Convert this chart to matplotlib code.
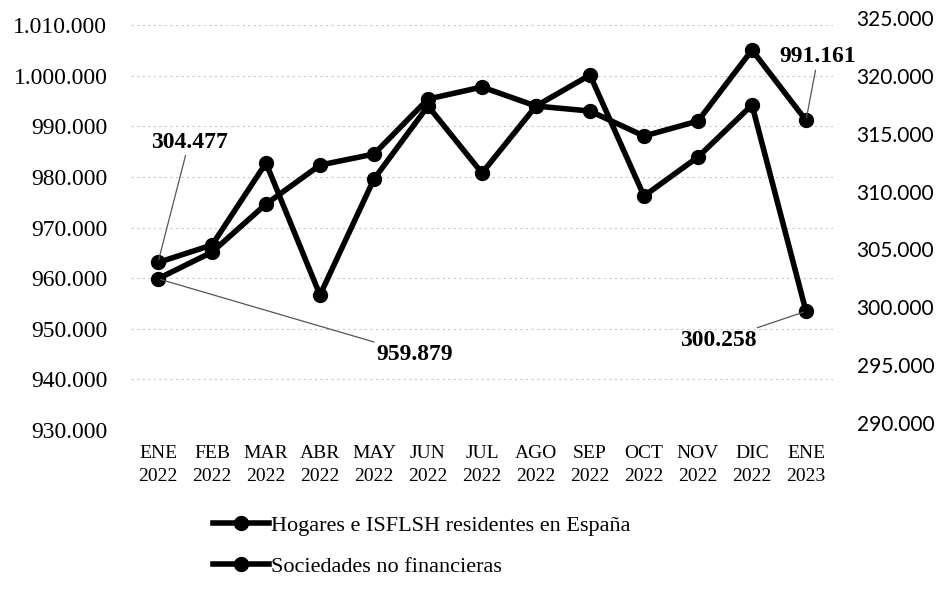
import matplotlib.pyplot as plt
from matplotlib.transforms import ScaledTranslation

# monthly data, ENE 2022 - ENE 2023
meses = ["ENE\n2022", "FEB\n2022", "MAR\n2022", "ABR\n2022", "MAY\n2022", "JUN\n2022", "JUL\n2022",
         "AGO\n2022", "SEP\n2022", "OCT\n2022", "NOV\n2022", "DIC\n2022", "ENE\n2023"]
hogares = [959879, 965138, 974625, 982332, 984506, 995375, 997747,
           993992, 993004, 988063, 991028, 1005060, 991161]
sociedades = [304477, 305985, 313073, 301663, 311690, 318000, 312208,
              318000, 320678, 310220, 313591, 318086, 300258]
ticks_izq = list(range(930000, 1010001, 10000))
ticks_der = list(range(290000, 325001, 5000))


def miles(v):
    return f"{v:,}".replace(",", ".")


serif = "Liberation Serif"
fig = plt.figure(figsize=(9.4, 6.08), dpi=100)
ax = fig.add_axes([131 / 940, 1 - 430 / 608, (833 - 131) / 940, (430 - 25) / 608])
ax2 = ax.twinx()

x = list(range(len(meses)))
l1, = ax.plot(x, hogares, color="black", lw=4, marker="o", ms=10,
              label="Hogares e ISFLSH residentes en España", zorder=3)
l2, = ax2.plot(x, sociedades, color="black", lw=4, marker="o", ms=10,
               label="Sociedades no financieras", zorder=3)

ax.set_xlim(-0.5, len(meses) - 0.5)
ax.set_ylim(930000, 1010000)
ax2.set_ylim(290000, 325000)
ax.set_yticks(ticks_izq)
ax.set_yticklabels([miles(v) for v in ticks_izq], fontfamily=serif, fontsize=17)
ax2.set_yticks(ticks_der)
ax2.set_yticklabels([miles(v) for v in ticks_der], fontfamily="Lato", fontsize=15)
ax.set_xticks(x)
ax.set_xticklabels(meses, fontfamily=serif, fontsize=14, linespacing=1.45)

ax.grid(axis="y", color="#c8c8c8", linestyle=(0, (2, 3)), linewidth=0.8)
ax.tick_params(axis="y", length=0, pad=17)
ax.tick_params(axis="x", length=0, pad=11)
ax2.tick_params(axis="y", length=0, pad=17)
for a in (ax, ax2):
    for s in a.spines.values():
        s.set_visible(False)

# right axis labels sit a bit higher in the original
up = ScaledTranslation(0, 7 / 100, fig.dpi_scale_trans)
for lbl in ax2.get_yticklabels():
    lbl.set_transform(lbl.get_transform() + up)

# data labels for first and last points
lead = dict(arrowstyle="-", color="#555555", lw=0.9, shrinkA=0, shrinkB=2)
ax2.annotate(miles(sociedades[0]), xy=(0, sociedades[0]), xytext=(189 / 940, 1 - 142 / 608),
             textcoords="figure fraction", ha="center", va="center",
             fontfamily=serif, fontweight="bold", fontsize=17, arrowprops=lead)
ax.annotate(miles(hogares[0]), xy=(0, hogares[0]), xytext=(415 / 940, 1 - 354 / 608),
            textcoords="figure fraction", ha="center", va="center",
            fontfamily=serif, fontweight="bold", fontsize=17, arrowprops=lead)
ax.annotate(miles(hogares[-1]), xy=(12, hogares[-1]), xytext=(818 / 940, 1 - 57 / 608),
            textcoords="figure fraction", ha="center", va="center",
            fontfamily=serif, fontweight="bold", fontsize=17, arrowprops=lead)
ax2.annotate(miles(sociedades[-1]), xy=(12, sociedades[-1]), xytext=(718 / 940, 1 - 341 / 608),
             textcoords="figure fraction", ha="center", va="center",
             fontfamily=serif, fontweight="bold", fontsize=17, arrowprops=lead)

fig.legend(handles=[l1, l2], loc="upper left", bbox_to_anchor=(213 / 940, 1 - 515 / 608),
           frameon=False, prop={"family": serif, "size": 16}, handlelength=2.5,
           handletextpad=0.1, labelspacing=0.95, borderpad=0, borderaxespad=0)

fig.savefig("out.png", dpi=100)
